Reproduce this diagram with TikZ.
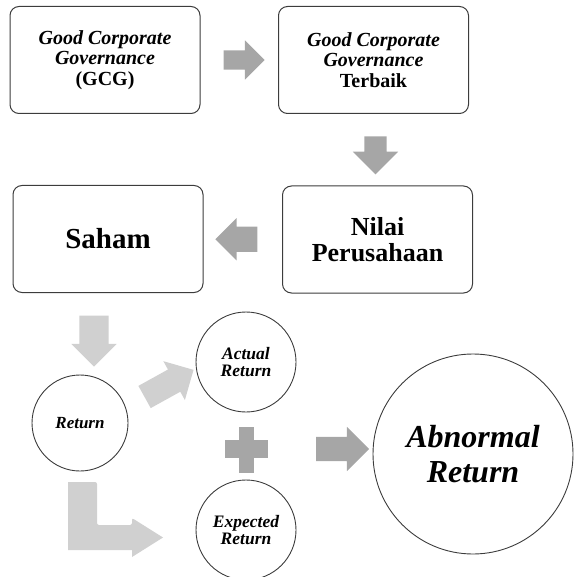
\documentclass[tikz,border=0pt]{standalone}
\usepackage{fontspec}
\setmainfont{Liberation Serif}
\usetikzlibrary{shapes.arrows,calc}
\definecolor{arrowgray}{RGB}{166,166,166}
\definecolor{arrowlight}{RGB}{208,208,208}
\definecolor{linegray}{RGB}{60,60,60}

\begin{document}
\begin{tikzpicture}[x=1pt, y=-1pt,
	box/.style={draw=linegray, line width=1pt, rounded corners=9pt, minimum width=190pt, minimum height=107pt, align=center, font=\bfseries},
	ring/.style={draw=linegray, line width=0.9pt, circle, inner sep=0pt, align=center, font=\bfseries\itshape},
	blockarrow/.style n args={4}{single arrow, draw=none, fill=#1, minimum height=#2, inner xsep=0pt, inner ysep=#3/2, single arrow head extend=#4, single arrow head indent=0pt, outer sep=0pt}]
	\useasboundingbox (0,0) rectangle (573,577);

	% top row
	\node [box, font=\bfseries\fontsize{20}{20.5}\selectfont] (gcg) at (105,60) {{\itshape Good Corporate}\\{\itshape Governance}\\(GCG)};
	\node [box, font=\bfseries\fontsize{20}{20.5}\selectfont] (best) at (373.5,60) {{\itshape Good Corporate}\\{\itshape Governance}\\Terbaik};
	\node [box, font=\bfseries\fontsize{26}{26}\selectfont] (value) at (377.5,239.5) {Nilai\\Perusahaan};
	\node [box, font=\bfseries\fontsize{29}{33}\selectfont] (stock) at (108,239) {Saham};

	% block arrows between boxes
	\node [blockarrow={arrowgray}{41pt}{19pt}{10pt}] (a1) at ($(gcg.east)!0.5!(best.west)$) {};
	\node [blockarrow={arrowgray}{38pt}{22pt}{11.5pt}, rotate=-90] (a2) at ($(best.south)!0.5!(value.north)$) {};
	\node [blockarrow={arrowgray}{42pt}{25pt}{8.5pt}, rotate=180] (a3) at ($(value.west)!0.5!(stock.east)$) {};

	% returns
	\node [ring, minimum size=96pt, font=\bfseries\itshape\fontsize{17}{17}\selectfont] (ret) at (80,423) {Return};
	\node [ring, minimum size=100pt, font=\bfseries\itshape\fontsize{17.5}{17}\selectfont] (actual) at (246,362) {Actual\\Return};
	\node [ring, minimum size=100pt, font=\bfseries\itshape\fontsize{17.5}{17}\selectfont] (expected) at (246,530) {Expected\\Return};
	\node [ring, minimum size=200pt, font=\bfseries\itshape\fontsize{32}{35}\selectfont] (abn) at (473,454) {Abnormal\\Return};

	\node [blockarrow={arrowlight}{51pt}{29pt}{8pt}, rotate=-90] (a4) at ($(stock.south)!0.5!(ret.north)$) {};
	\node [blockarrow={arrowlight}{56pt}{25pt}{9.5pt}, rotate=29] (a5) at (163.5,386.5) {};
	\node [blockarrow={arrowgray}{53pt}{24pt}{10pt}] (a6) at (336.5,449) {};

	% plus sign
	\fill [arrowgray] (225,440) rectangle (268,458);
	\fill [arrowgray] (239,427) rectangle (254,473);

	% bent arrow to expected return
	\fill [arrowlight, rounded corners=2pt] (68,482) -- (97,482) -- (97,525) -- (132,525) -- (132,518) [sharp corners] -- (163,537.5) -- (132,557) -- (132,550) -- (68,550) -- cycle;
\end{tikzpicture}
\end{document}
